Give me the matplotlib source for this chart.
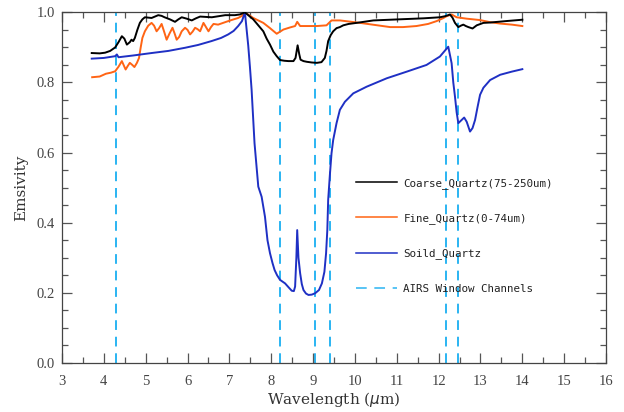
import matplotlib
matplotlib.use("Agg")
import matplotlib.pyplot as plt
from matplotlib.ticker import MultipleLocator
from matplotlib.lines import Line2D

# emissivity spectra (wavelength in um)
coarse_x = [3.71, 3.90, 4.03, 4.15, 4.27, 4.35, 4.43, 4.49, 4.55, 4.62,
            4.66, 4.70, 4.74, 4.80, 4.86, 4.92, 4.98, 5.06, 5.14, 5.22,
            5.30, 5.38, 5.45, 5.58, 5.70, 5.78, 5.86, 5.98, 6.10, 6.20,
            6.30, 6.44, 6.58, 6.74, 6.90, 7.13, 7.25, 7.37, 7.47, 7.57,
            7.69, 7.81, 7.89, 7.97, 8.05, 8.13, 8.21, 8.31, 8.41, 8.53,
            8.58, 8.63, 8.67, 8.70, 8.77, 8.85, 8.97, 9.09, 9.20, 9.28,
            9.32, 9.36, 9.42, 9.48, 9.56, 9.64, 9.72, 9.85, 10.04, 10.44,
            10.84, 11.24, 11.64, 12.03, 12.15, 12.23, 12.27, 12.33, 12.39, 12.47,
            12.53, 12.59, 12.65, 12.71, 12.81, 12.91, 13.07, 13.23, 13.60, 14.00]
coarse_y = [.884, .883, .885, .890, .900, .915, .932, .925, .908, .915,
            .922, .918, .927, .950, .970, .980, .986, .985, .984, .988,
            .992, .990, .986, .980, .973, .980, .986, .982, .977, .983,
            .988, .987, .986, .989, .992, .992, .994, 1.000, .990, .980,
            .963, .946, .925, .908, .888, .875, .864, .862, .861, .861,
            .870, .906, .880, .865, .861, .859, .857, .856, .858, .870,
            .890, .918, .935, .946, .955, .958, .963, .967, .970, .977,
            .979, .981, .983, .986, .989, .992, .994, .985, .970, .958,
            .962, .965, .961, .958, .954, .963, .970, .971, .975, .979]

fine_x = [3.72, 3.90, 4.05, 4.17, 4.27, 4.35, 4.43, 4.52, 4.57, 4.62,
          4.68, 4.73, 4.79, 4.84, 4.88, 4.92, 4.98, 5.06, 5.14, 5.20,
          5.26, 5.32, 5.38, 5.44, 5.50, 5.57, 5.64, 5.69, 5.74, 5.80,
          5.86, 5.94, 6.00, 6.06, 6.12, 6.18, 6.24, 6.30, 6.38, 6.44,
          6.50, 6.56, 6.62, 6.73, 6.85, 6.97, 7.10, 7.21, 7.30, 7.37,
          7.47, 7.57, 7.69, 7.81, 7.97, 8.13, 8.21, 8.29, 8.45, 8.57,
          8.62, 8.69, 8.85, 9.09, 9.32, 9.38, 9.44, 9.64, 9.85, 10.12,
          10.48, 10.84, 11.15, 11.47, 11.75, 11.95, 12.10, 12.19, 12.31, 12.43,
          12.67, 12.99, 13.23, 13.47, 13.75, 14.00]
fine_y = [.815, .817, .825, .828, .832, .845, .861, .837, .847, .856,
          .850, .844, .856, .870, .900, .927, .946, .962, .970, .962,
          .946, .955, .967, .945, .922, .940, .956, .940, .922, .930,
          .946, .956, .950, .937, .945, .956, .952, .946, .970, .958,
          .946, .958, .967, .965, .970, .975, .980, .984, .990, 1.000,
          .992, .984, .977, .970, .955, .939, .945, .951, .957, .961,
          .973, .961, .961, .961, .963, .970, .977, .977, .974, .970,
          .964, .958, .958, .961, .967, .975, .983, .989, .994, .986,
          .982, .978, .972, .968, .965, .961]

solid_x = [3.71, 4.00, 4.27, 4.31, 4.35, 4.70, 5.14, 5.54, 5.94, 6.25,
           6.57, 6.80, 6.97, 7.10, 7.21, 7.30, 7.37, 7.45, 7.49, 7.53,
           7.60, 7.69, 7.77, 7.85, 7.91, 7.97, 8.03, 8.08, 8.14, 8.21,
           8.33, 8.42, 8.49, 8.54, 8.57, 8.60, 8.62, 8.65, 8.69, 8.73,
           8.77, 8.83, 8.89, 8.97, 9.05, 9.14, 9.21, 9.27, 9.31, 9.34,
           9.36, 9.40, 9.44, 9.48, 9.56, 9.64, 9.76, 9.96, 10.28, 10.76,
           11.24, 11.71, 12.03, 12.13, 12.23, 12.31, 12.35, 12.39, 12.43, 12.47,
           12.54, 12.61, 12.67, 12.75, 12.81, 12.87, 12.93, 12.99, 13.07, 13.23,
           13.47, 13.75, 14.00]
solid_y = [.868, .870, .875, .880, .872, .877, .884, .890, .899, .907,
           .918, .927, .937, .947, .961, .975, 1.000, .905, .845, .780,
           .627, .503, .474, .417, .350, .313, .285, .265, .250, .237,
           .227, .215, .206, .205, .218, .300, .379, .300, .256, .225,
           .208, .198, .194, .195, .199, .208, .227, .260, .313, .380,
           .465, .535, .598, .636, .684, .722, .745, .769, .788, .812,
           .831, .850, .874, .888, .902, .855, .800, .760, .715, .684,
           .692, .700, .688, .660, .670, .693, .730, .765, .785, .807,
           .822, .831, .838]

airs_channels = [4.29, 8.22, 9.05, 9.40, 12.18, 12.47]

labels = ["Coarse_Quartz(75-250um)", "Fine_Quartz(0-74um)", "Soild_Quartz",
          "AIRS Window Channels"]

c_coarse = "black"
c_fine = "#ff6414"
c_solid = "#1f30c4"
c_airs = "#2ab4f2"

fig = plt.figure(figsize=(6.24, 4.12), dpi=100)
ax = fig.add_axes([0.0994, 0.119, 0.8718, 0.851])

for xc in airs_channels:
    ax.axvline(xc, color=c_airs, lw=1.4, dashes=(5, 3.5), zorder=1)

ax.plot(coarse_x, coarse_y, color=c_coarse, lw=1.4, zorder=3)
ax.plot(fine_x, fine_y, color=c_fine, lw=1.4, zorder=2)
ax.plot(solid_x, solid_y, color=c_solid, lw=1.4, zorder=2)

ax.set_xlim(3, 16)
ax.set_ylim(0, 1.0)
ax.xaxis.set_major_locator(MultipleLocator(1))
ax.xaxis.set_minor_locator(MultipleLocator(0.5))
ax.yaxis.set_major_locator(MultipleLocator(0.2))
ax.yaxis.set_minor_locator(MultipleLocator(0.05))
ax.tick_params(which="both", direction="in", top=True, right=True,
               colors="#555555", labelcolor="#444444", labelsize=10.5)
ax.tick_params(which="major", length=7, width=0.9)
ax.tick_params(which="minor", length=4, width=0.9)
ax.tick_params(axis="x", pad=9)
ax.tick_params(axis="y", pad=5)
ax.set_yticklabels([f"{v:.1f}" for v in ax.get_yticks()])
for lbl in ax.get_xticklabels() + ax.get_yticklabels():
    lbl.set_family("Liberation Serif")
for s in ax.spines.values():
    s.set_color("#444444")
    s.set_linewidth(0.9)

ax.set_xlabel(r"Wavelength ($\mu$m)", family="DejaVu Serif", fontsize=11,
              color="#333333", labelpad=1)
ax.set_ylabel("Emsivity", family="DejaVu Serif", fontsize=11,
              color="#333333", labelpad=6)

handles = [Line2D([], [], color=c_coarse, lw=1.1),
           Line2D([], [], color=c_fine, lw=1.1),
           Line2D([], [], color=c_solid, lw=1.1),
           Line2D([], [], color=c_airs, lw=1.1, dashes=(7, 5))]
leg = ax.legend(handles, labels, loc="center left", bbox_to_anchor=(0.53, 0.363),
                frameon=False, borderpad=0, handlelength=3.8, handletextpad=0.6,
                labelspacing=2.25, prop={"family": "DejaVu Sans Mono", "size": 7.8})
for t in leg.get_texts():
    t.set_color("#222222")

plt.savefig("out.png", dpi=100)
